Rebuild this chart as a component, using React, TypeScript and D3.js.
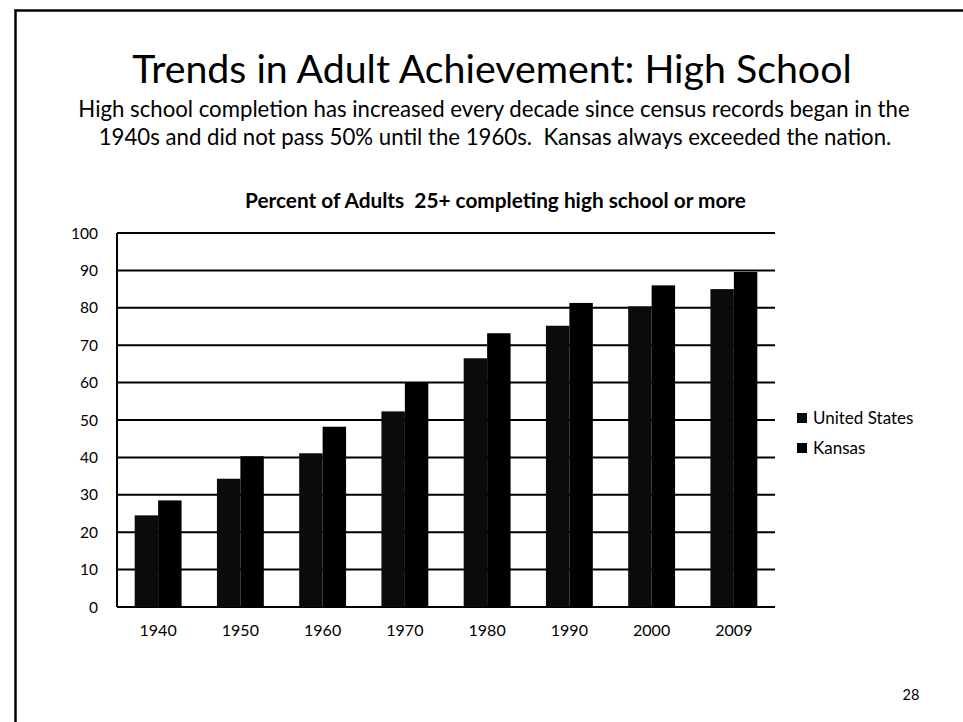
import React from "react";
import * as d3 from "d3";

const years = ["1940", "1950", "1960", "1970", "1980", "1990", "2000", "2009"];
const usValues = [24.5, 34.3, 41.1, 52.3, 66.5, 75.2, 80.4, 85.0];
const kansasValues = [28.5, 40.3, 48.2, 59.9, 73.2, 81.3, 86.0, 89.6];
const seriesNames = ["United States", "Kansas"];
const yTicks = [0, 10, 20, 30, 40, 50, 60, 70, 80, 90, 100];

const W = 963;
const H = 722;
const plot = { left: 117, right: 775, top: 233, bottom: 607 };
const FONT = "Lato, 'Open Sans', sans-serif";

export default function App() {
  const x0 = d3
    .scaleBand<string>()
    .domain(years)
    .range([plot.left, plot.right])
    .paddingInner(0.43)
    .paddingOuter(0.215);
  const x1 = d3.scaleBand<string>().domain(seriesNames).range([0, x0.bandwidth()]).padding(0);
  const y = d3.scaleLinear().domain([0, 100]).range([plot.bottom, plot.top]);

  const series = [
    { name: seriesNames[0], values: usValues, color: "#0b0b0b" },
    { name: seriesNames[1], values: kansasValues, color: "#000000" },
  ];

  return (
    <svg
      width={W}
      height={H}
      style={{ position: "absolute", left: 0, top: 0, background: "#fff" }}
      fontFamily={FONT}
    >
      <rect x={0} y={0} width={W} height={H} fill="#fff" />
      {/* slide frame */}
      <line x1={14.5} y1={10.5} x2={W} y2={10.5} stroke="#000" strokeWidth={2.5} />
      <line x1={15.5} y1={9.5} x2={15.5} y2={H} stroke="#000" strokeWidth={2.5} />

      {/* titles */}
      <text x={492} y={83} textAnchor="middle" fontSize={39.3} fill="#000">
        Trends in Adult Achievement: High School
      </text>
      <text x={494} y={116.5} textAnchor="middle" fontSize={22.2} fill="#000">
        High school completion has increased every decade since census records began in the
      </text>
      <text x={495} y={145} textAnchor="middle" fontSize={22.2} fill="#000" style={{ whiteSpace: "pre" }}>
        {"1940s and did not pass 50% until the 1960s.  Kansas always exceeded the nation."}
      </text>
      <text x={495.5} y={208} textAnchor="middle" fontSize={20.8} fontWeight="bold" fill="#000" style={{ whiteSpace: "pre" }}>
        {"Percent of Adults  25+ completing high school or more"}
      </text>

      {/* gridlines */}
      {yTicks.map((t) => (
        <line
          key={"g" + t}
          x1={plot.left}
          x2={plot.right}
          y1={y(t)}
          y2={y(t)}
          stroke="#000"
          strokeWidth={2}
        />
      ))}
      {/* y axis line */}
      <line x1={plot.left} x2={plot.left} y1={plot.top} y2={plot.bottom} stroke="#000" strokeWidth={2} />

      {/* y tick labels */}
      {yTicks.map((t) => (
        <text key={"yl" + t} x={98} y={y(t) + 5.5} textAnchor="end" fontSize={15.5} fill="#000">
          {t}
        </text>
      ))}

      {/* bars */}
      {years.map((yr, i) => (
        <g key={yr} transform={`translate(${x0(yr)},0)`}>
          {series.map((s) => (
            <rect
              key={s.name}
              x={x1(s.name)}
              y={y(s.values[i])}
              width={x1.bandwidth()}
              height={plot.bottom - y(s.values[i])}
              fill={s.color}
            />
          ))}
        </g>
      ))}

      {/* x labels */}
      {years.map((yr) => (
        <text
          key={"xl" + yr}
          x={(x0(yr) as number) + x0.bandwidth() / 2}
          y={636}
          textAnchor="middle"
          fontSize={16}
          fill="#000"
        >
          {yr}
        </text>
      ))}

      {/* legend */}
      {series.map((s, i) => (
        <g key={"lg" + s.name} transform={`translate(797, ${413 + i * 30})`}>
          <rect x={0} y={0} width={10} height={10} fill={s.color} />
          <text x={16} y={11} fontSize={17} fill="#000">
            {s.name}
          </text>
        </g>
      ))}

      {/* page number */}
      <text x={911} y={700} textAnchor="middle" fontSize={14.5} fill="#000">
        28
      </text>
    </svg>
  );
}
